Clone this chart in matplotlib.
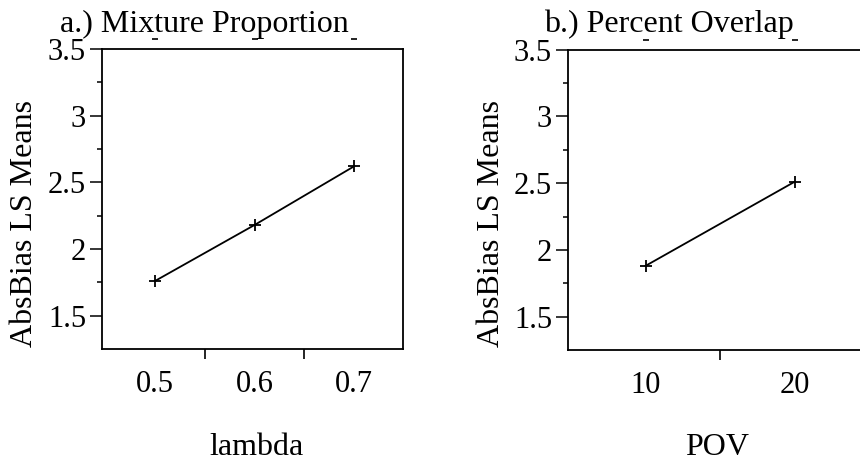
import numpy as np
import matplotlib.pyplot as plt
import matplotlib.transforms as mtransforms

plt.rcParams['font.family'] = ['Liberation Serif', 'DejaVu Serif']

# least-squares means of absolute bias
lam = [0.5, 0.6, 0.7]
lam_means = [1.76, 2.18, 2.62]
pov = [10, 20]
pov_means = [1.88, 2.51]

fs_tick = 22
fs_lab = 23
fig = plt.figure(figsize=(8.6, 4.61), dpi=100)

def style_axes(ax, xlim, xmajor, xminor):
    ax.set_xlim(*xlim)
    ax.set_ylim(1.25, 3.5)
    ax.set_xticks(xmajor)
    ax.set_xticklabels([str(v) for v in xmajor])
    ax.set_xticks(xminor, minor=True)
    ax.set_yticks([1.5, 2, 2.5, 3, 3.5])
    ax.set_yticklabels(['1.5', '2', '2.5', '3', '3.5'])
    ax.set_yticks([1.75, 2.25, 2.75, 3.25], minor=True)
    ax.tick_params(axis='x', which='major', length=0, pad=15, labelsize=fs_tick)
    ax.tick_params(axis='x', which='minor', length=7, width=1.2, direction='out')
    ax.tick_params(axis='y', which='major', length=8.5, width=1.1, pad=3, labelsize=fs_tick)
    ax.tick_params(axis='y', which='minor', length=3.5, width=1.1)
    for s in ax.spines.values():
        s.set_linewidth(1.3)

def small_caps_marks(ax, xs):
    tr = mtransforms.blended_transform_factory(ax.transData, ax.transAxes)
    ax.plot(xs, [1.033] * len(xs), transform=tr, marker='_', ms=5, mew=1.2,
            ls='none', color='black', clip_on=False)

# a.) mixture proportion
ax1 = fig.add_axes([0.1186, 0.243, 0.350, 0.651])
ax1.plot(lam, lam_means, color='black', lw=1.3, marker='+', ms=8, mew=1.3)
style_axes(ax1, (0.4467, 0.749), lam, [0.55, 0.65])
small_caps_marks(ax1, lam)

# b.) percent overlap
ax2 = fig.add_axes([0.6605, 0.241, 0.350, 0.651])
ax2.plot(pov, pov_means, color='black', lw=1.3, marker='+', ms=8, mew=1.3)
style_axes(ax2, (4.8, 24.9), pov, [15, 25])
small_caps_marks(ax2, pov)

fig.text(204 / 860, 1 - 32 / 461, 'a.) Mixture Proportion', fontsize=fs_lab,
         ha='center', va='baseline')
fig.text(669 / 860, 1 - 32 / 461, 'b.) Percent Overlap', fontsize=fs_lab,
         ha='center', va='baseline')

fig.text(25 / 860, 1 - 223 / 461, 'AbsBias LS Means', fontsize=fs_lab,
         rotation=90, ha='center', va='center')
fig.text(491 / 860, 1 - 223 / 461, 'AbsBias LS Means', fontsize=fs_lab,
         rotation=90, ha='center', va='center')

fig.text(256 / 860, 1 - 455 / 461, 'lambda', fontsize=fs_lab, ha='center', va='baseline')
fig.text(717 / 860, 1 - 455 / 461, 'POV', fontsize=fs_lab, ha='center', va='baseline')

fig.savefig('out.png', dpi=100)
